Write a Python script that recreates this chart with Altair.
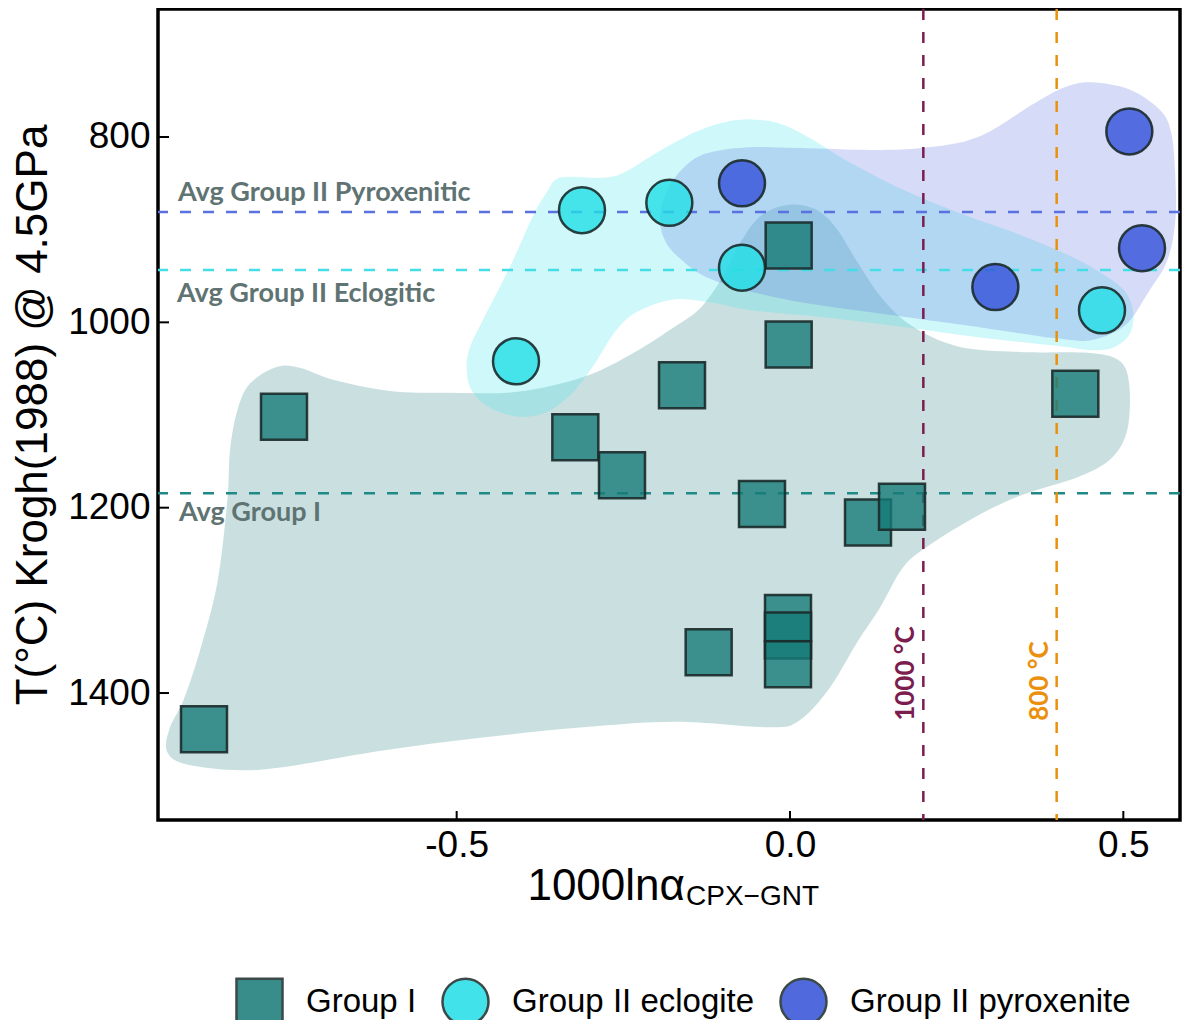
import altair as alt
import pandas as pd

# ---------------- data ----------------
groups = ["Group I", "Group II eclogite", "Group II pyroxenite"]
group_colors = ["#167a77", "#20dee6", "#3250d8"]
group_shapes = ["square", "circle", "circle"]
edge_colors = ["#1b2a2a", "#1b2a2a", "#1b2a2a"]

g1_x = [-0.879, -0.759, -0.322, -0.252, -0.162, -0.002, -0.002, -0.042, -0.122,
        -0.003, -0.003, -0.003, 0.117, 0.168, 0.428]
g1_y = [1439, 1102, 1124, 1165, 1068, 917, 1024, 1196, 1356,
        1319, 1338, 1369, 1216, 1199, 1077]
ecl_x = [-0.312, -0.411, -0.181, -0.072, 0.468]
ecl_y = [879, 1042, 871, 941, 987]
pyx_x = [-0.072, 0.308, 0.509, 0.528]
pyx_y = [850, 962, 794, 920]

# hull outlines (data units)
hull1_x = [-0.930, -0.910, -0.885, -0.859, -0.844, -0.840, -0.829, -0.810, -0.769, -0.735,
           -0.685, -0.600, -0.510, -0.409, -0.310, -0.235, -0.180, -0.135, -0.102, -0.072,
           -0.042, -0.002, 0.038, 0.069, 0.101, 0.138, 0.183, 0.252, 0.345, 0.450,
           0.495, 0.509, 0.506, 0.483, 0.435, 0.345, 0.278, 0.210, 0.170, 0.135,
           0.101, 0.060, 0.015, -0.030, -0.171, -0.310, -0.461, -0.611, -0.761, -0.836,
           -0.910, -0.935]
hull1_y = [1437, 1408, 1354, 1281, 1192, 1138, 1095, 1066, 1048, 1049,
           1062, 1074, 1076, 1075, 1059, 1033, 1008, 985, 952, 911,
           884, 873, 878, 898, 935, 974, 1004, 1026, 1032, 1033,
           1042, 1068, 1116, 1146, 1166, 1187, 1210, 1240, 1264, 1308,
           1345, 1394, 1429, 1437, 1431, 1437, 1448, 1462, 1480, 1483,
           1476, 1462]
hull2_x = [-0.345, -0.285, -0.251, -0.200, -0.143, -0.098, -0.059, -0.018, 0.027, 0.084,
           0.170, 0.254, 0.339, 0.425, 0.476, 0.504, 0.515, 0.510, 0.486, 0.453,
           0.396, 0.282, 0.170, 0.056, -0.059, -0.116, -0.171, -0.225, -0.260, -0.296,
           -0.326, -0.360, -0.395, -0.431, -0.461, -0.480, -0.485, -0.480, -0.461, -0.420,
           -0.386, -0.365]
hull2_y = [844, 844, 839, 817, 795, 784, 781, 785, 800, 825,
           857, 882, 904, 930, 951, 968, 990, 1012, 1027, 1030,
           1025, 1016, 1005, 995, 987, 979, 975, 987, 1008, 1048,
           1076, 1095, 1102, 1098, 1087, 1070, 1048, 1027, 998, 940,
           886, 860]
hull3_x = [-0.195, -0.180, -0.150, -0.116, -0.059, 0.015, 0.120, 0.197, 0.282, 0.368,
           0.413, 0.453, 0.510, 0.555, 0.572, 0.578, 0.578, 0.566, 0.537, 0.503,
           0.453, 0.396, 0.282, 0.170, -0.002, -0.116, -0.165, -0.188]
hull3_y = [884, 852, 827, 816, 811, 812, 814, 812, 800, 763,
           746, 741, 749, 771, 796, 843, 890, 933, 968, 1003,
           1019, 1017, 1005, 994, 976, 954, 931, 911]
hull_colors = ["#1a7b7a", "#4de5eb", "#5b73e0"]
hull_opacity = [0.23, 0.27, 0.25]

avg_y = [881, 943.5, 1184.5]
avg_colors = ["#5a72e0", "#45dde6", "#1f8a85"]
ann_text = ["Avg Group II Pyroxenitic", "Avg Group II Eclogitic", "Avg Group I"]
ann_x = [-0.918, -0.9195, -0.9165]
ann_y = [869, 978, 1214]

thr_x = [0.2, 0.4]
thr_colors = ["#7b1d4e", "#ea900c"]
thr_text = ["1000 °C", "800 °C"]
thr_label_y = [1430, 1430]

x_ticks = [-0.5, 0.0, 0.5]
y_ticks = [800, 1000, 1200, 1400]
x_title_main = "1000lnα"
x_title_sub = "CPX−GNT"
y_title = "T(°C) Krogh(1988) @ 4.5GPa"

# ---------------- chart ----------------
W, H = 1022, 811
xs = alt.Scale(domain=[-0.948, 0.585], nice=False, zero=False)
ys = alt.Scale(domain=[661.9, 1537.0], reverse=True, nice=False, zero=False)
FONT = "Liberation Sans"

AX = alt.Axis(
    values=x_ticks, labelExpr="replace(format(datum.value, '.1f'), '\u2212', '-')",
    labelFontSize=37, labelFont=FONT, labelColor="black", ticks=False,
    domain=False, grid=False, labelPadding=7, title=None)
AY = alt.Axis(
    values=y_ticks, format="d", labelFontSize=37, labelFont=FONT,
    labelColor="black", ticks=False, domain=False, grid=False, labelPadding=8,
    title=y_title, titleFontSize=44, titleFont=FONT, titleFontWeight="normal",
    titleColor="black", titlePadding=12)


def X(field):
    return alt.X(field, scale=xs, axis=AX)


def Y(field):
    return alt.Y(field, scale=ys, axis=AY)


def hull_layer(hx, hy, color, op):
    df = pd.DataFrame({"x": hx, "y": hy, "i": list(range(len(hx)))})
    return alt.Chart(df).mark_line(
        filled=True, fill=color, fillOpacity=op, strokeWidth=0, strokeOpacity=0,
        interpolate="cardinal-closed"
    ).encode(x=X("x:Q"), y=Y("y:Q"), order=alt.Order("i:Q"))


hulls = [hull_layer(hx, hy, c, o) for hx, hy, c, o in zip(
    [hull1_x, hull2_x, hull3_x], [hull1_y, hull2_y, hull3_y], hull_colors, hull_opacity)]

hl_df = pd.DataFrame({"y": avg_y, "c": avg_colors})
hlines = alt.Chart(hl_df).mark_rule(strokeDash=[11, 12], strokeWidth=2.5).encode(
    y=Y("y:Q"), color=alt.Color("c:N", scale=None))

vl_df = pd.DataFrame({"x": thr_x, "c": thr_colors, "t": thr_text, "y": thr_label_y})
vlines = alt.Chart(vl_df).mark_rule(strokeDash=[11, 12], strokeWidth=2.5).encode(
    x=X("x:Q"), color=alt.Color("c:N", scale=None))
vlabels = alt.Chart(vl_df).mark_text(
    angle=270, align="left", baseline="alphabetic", dy=-9,
    font="Lato", fontWeight="bold", fontSize=26
).encode(x=X("x:Q"), y=Y("y:Q"), text="t:N", color=alt.Color("c:N", scale=None))

ann_df = pd.DataFrame({"x": ann_x, "y": ann_y, "t": ann_text})
ann = alt.Chart(ann_df).mark_text(
    align="left", baseline="alphabetic", font="Lato", fontWeight="bold",
    fontSize=27, color="#5f7372"
).encode(x=X("x:Q"), y=Y("y:Q"), text="t:N")

pts = pd.DataFrame({
    "x": g1_x + ecl_x + pyx_x,
    "y": g1_y + ecl_y + pyx_y,
    "group": [groups[0]] * len(g1_x) + [groups[1]] * len(ecl_x) + [groups[2]] * len(pyx_x),
})
leg = dict(
    title=None, orient="none", legendX=77, legendY=968, direction="horizontal",
    symbolSize=2116, symbolStrokeWidth=2.5,
    labelFontSize=33, labelFont=FONT, labelColor="black", labelOffset=22,
    labelLimit=500, columnPadding=20, symbolOpacity=0.85,
)
points = alt.Chart(pts).mark_point(
    filled=True, size=2116, fillOpacity=0.8,
    strokeWidth=2.5, strokeOpacity=0.9
).encode(
    x=X("x:Q"), y=Y("y:Q"),
    color=alt.Color("group:N", scale=alt.Scale(domain=groups, range=group_colors), legend=alt.Legend(**leg)),
    shape=alt.Shape("group:N", scale=alt.Scale(domain=groups, range=group_shapes), legend=alt.Legend(**leg)),
    stroke=alt.Stroke("group:N", scale=alt.Scale(domain=groups, range=edge_colors), legend=alt.Legend(**leg)),
)

xt = alt.Chart(pd.DataFrame({"x": x_ticks})).mark_rule(color="black", strokeWidth=2).encode(
    x=X("x:Q"), y=alt.value(H), y2=alt.value(H - 9))
yt = alt.Chart(pd.DataFrame({"y": y_ticks})).mark_rule(color="black", strokeWidth=2).encode(
    y=Y("y:Q"), x=alt.value(0), x2=alt.value(11))

xtitle_main = alt.Chart(pd.DataFrame({"t": [x_title_main]})).mark_text(
    align="right", baseline="alphabetic", font=FONT, fontSize=44, color="black"
).encode(text="t:N", x=alt.value(527), y=alt.value(891))
xtitle_sub = alt.Chart(pd.DataFrame({"t": [x_title_sub]})).mark_text(
    align="left", baseline="alphabetic", font=FONT, fontSize=28, color="black"
).encode(text="t:N", x=alt.value(528), y=alt.value(896))

chart = alt.layer(
    *hulls, hlines, vlines, xt, yt, points, vlabels, ann, xtitle_main, xtitle_sub
).properties(
    width=W, height=H,
    autosize=alt.AutoSizeParams(type="none"),
    padding={"left": 150, "top": 1, "right": 2, "bottom": 200},
    background="white",
).configure_view(stroke="black", strokeWidth=3.5)

chart.save("out.html", embed_options={"renderer": "svg", "actions": False})
